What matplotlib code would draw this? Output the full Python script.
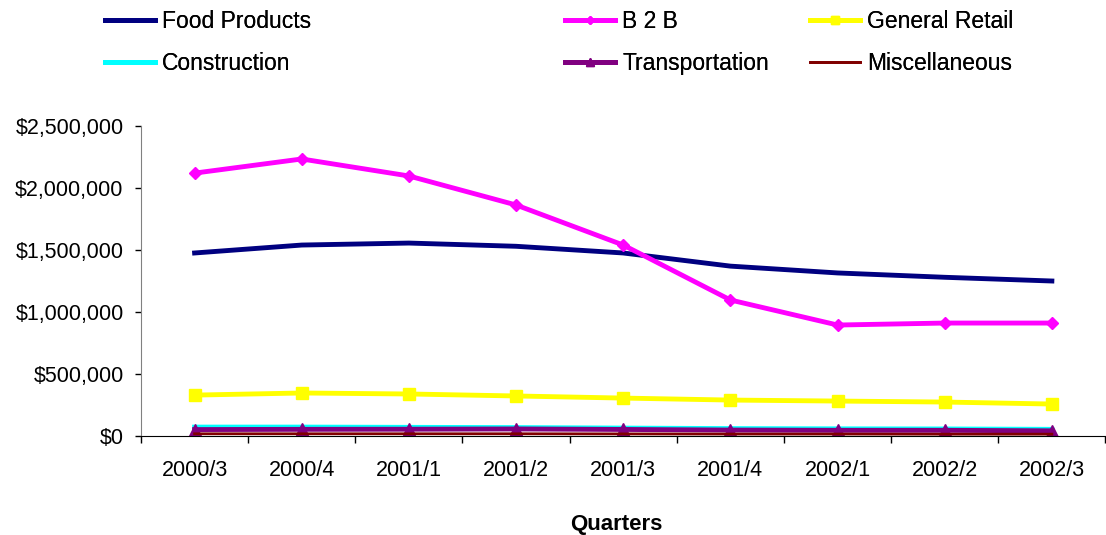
import matplotlib
matplotlib.use("Agg")
import matplotlib.pyplot as plt
from matplotlib.ticker import FuncFormatter

plt.rcParams['font.family'] = ['Liberation Sans', 'DejaVu Sans']

quarters = ["2000/3", "2000/4", "2001/1", "2001/2", "2001/3", "2001/4", "2002/1", "2002/2", "2002/3"]
food_products = [1476000, 1540000, 1556000, 1530000, 1476000, 1370000, 1315000, 1280000, 1250000]
b2b = [2120000, 2234000, 2097000, 1863000, 1540000, 1097000, 895000, 911000, 911000]
general_retail = [330000, 347000, 339000, 323000, 306000, 290000, 282000, 274000, 258000]
construction = [72000, 72000, 70000, 68000, 64000, 60000, 58000, 57000, 54000]
transportation = [52000, 54000, 55000, 57000, 53000, 48000, 46000, 46000, 42000]
miscellaneous = [18000, 18000, 18000, 18000, 17000, 16000, 16000, 15000, 15000]

fig = plt.figure(figsize=(11.06, 5.35), dpi=100)
ax = fig.add_axes([0.1275, 0.185, 0.872, 0.5795])

x = list(range(len(quarters)))
l1, = ax.plot(x, food_products, color='#000080', lw=3.5, label='Food Products')
l2, = ax.plot(x, b2b, color='#FF00FF', lw=3.5, marker='D', ms=6, label='B 2 B')
l3, = ax.plot(x, general_retail, color='#FFFF00', lw=3.5, marker='s', ms=8, label='General Retail')
l4, = ax.plot(x, construction, color='#00FFFF', lw=3.5, label='Construction')
l5, = ax.plot(x, transportation, color='#800080', lw=3.5, marker='^', ms=8, label='Transportation')
l6, = ax.plot(x, miscellaneous, color='#800000', lw=2, label='Miscellaneous')

ax.set_xlim(-0.5, len(quarters) - 0.5)
ax.set_ylim(0, 2500000)
ax.set_yticks([0, 500000, 1000000, 1500000, 2000000, 2500000])
ax.yaxis.set_major_formatter(FuncFormatter(lambda v, p: "${:,.0f}".format(v)))
ax.set_xticks(x)
ax.set_xticklabels(quarters)
ax.set_xticks([i - 0.5 for i in range(len(quarters) + 1)], minor=True)
ax.tick_params(axis='x', which='major', length=0, pad=17, labelsize=15.5)
ax.tick_params(axis='x', which='minor', length=5, width=1)
ax.tick_params(axis='y', length=4.5, width=1, labelsize=15.5, pad=8)
for s in ['top', 'right']:
    ax.spines[s].set_visible(False)
ax.spines['left'].set_color('#808080')
ax.spines['bottom'].set_color('black')
ax.set_xlabel('Quarters', fontweight='bold', fontsize=16, labelpad=22)
ax.xaxis.set_label_coords(0.493, -0.25)

cols = [([l1, l4], 105), ([l2, l5], 565), ([l3, l6], 810)]
for handles, px in cols:
    leg = fig.legend(handles=handles, loc='upper left',
                     bbox_to_anchor=(px / 1106, 1 - 10 / 535), frameon=False, fontsize=16.5,
                     handlelength=2.2, handletextpad=0.3, labelspacing=0.82,
                     borderpad=0, borderaxespad=0, markerscale=0.7)
    fig.add_artist(leg)

fig.savefig('out.png', dpi=100)
